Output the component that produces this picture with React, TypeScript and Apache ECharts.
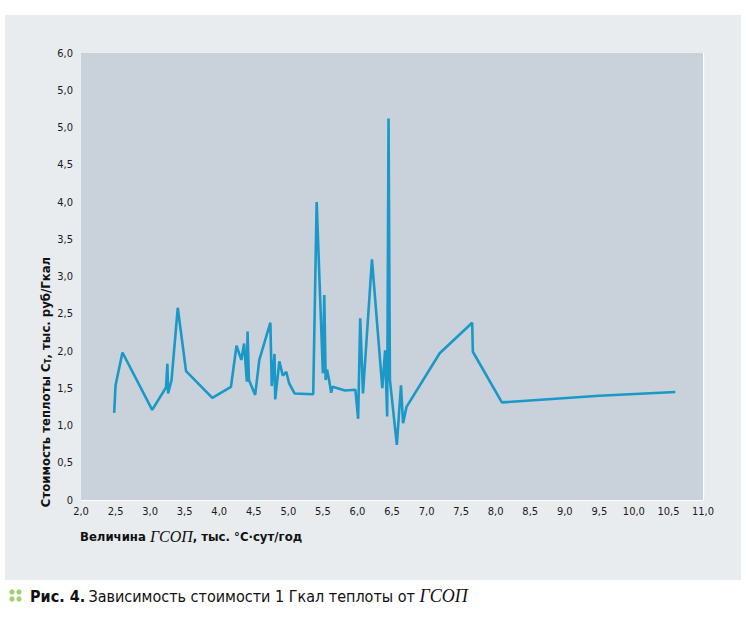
import React, { useEffect, useRef } from "react";
import * as echarts from "echarts";

const xValues = [
  2.48, 2.5, 2.6, 3.03, 3.23, 3.25, 3.26, 3.31, 3.4, 3.52,
  3.9, 4.17, 4.25, 4.32, 4.36, 4.4, 4.41, 4.43, 4.52, 4.58,
  4.74, 4.76, 4.8, 4.81, 4.87, 4.92, 4.97, 5.01, 5.09, 5.36,
  5.41, 5.5, 5.52, 5.54, 5.56, 5.59, 5.62, 5.64, 5.82, 5.97,
  6.01, 6.04, 6.08, 6.21, 6.36, 6.4, 6.43, 6.45, 6.47, 6.57,
  6.63, 6.66, 6.71, 7.19, 7.66, 7.67, 8.09, 9.5, 10.6,
];
const yValues = [
  1.17, 1.54, 1.98, 1.21, 1.51, 1.83, 1.43, 1.61, 2.58, 1.73,
  1.37, 1.52, 2.07, 1.88, 2.1, 1.59, 2.26, 1.61, 1.41, 1.88,
  2.38, 1.53, 1.96, 1.35, 1.86, 1.67, 1.72, 1.57, 1.43, 1.42,
  4.0, 1.7, 2.75, 1.61, 1.75, 1.61, 1.44, 1.52, 1.47, 1.48,
  1.09, 2.44, 1.43, 3.23, 1.5, 2.01, 1.12, 5.12, 1.61, 0.74,
  1.54, 1.03, 1.25, 1.97, 2.38, 1.99, 1.31, 1.4, 1.45,
];
// y tick labels as printed in the source (the 5.5 tick is printed "5,0")
const yTickLabels = ["0", "0,5", "1,0", "1,5", "2,0", "2,5", "3,0", "3,5", "4,0", "4,5", "5,0", "5,0", "6,0"];
const xTickLabels = [
  "2,0", "2,5", "3,0", "3,5", "4,0", "4,5", "5,0", "5,5", "6,0", "6,5",
  "7,0", "7,5", "8,0", "8,5", "9,0", "9,5", "10,0", "10,5", "11,0",
];

const COND = '"Liberation Sans Narrow", "DejaVu Sans Condensed", "Roboto", sans-serif';
const SERIF = '"Liberation Serif", "DejaVu Serif", serif';

export default function App() {
  const ref = useRef<HTMLDivElement>(null);
  useEffect(() => {
    document.body.style.margin = "0";
    if (!ref.current) return;
    const chart = echarts.init(ref.current, undefined, { renderer: "svg" });
    const data = xValues.map((x, i) => [x, yValues[i]]);
    chart.setOption({
      animation: false,
      backgroundColor: "#ffffff",
      grid: {
        left: 81,
        right: 43,
        top: 53,
        bottom: 125,
        show: true,
        backgroundColor: "#c9d2da",
        borderWidth: 0,
        z: 1,
      },
      xAxis: {
        type: "value",
        min: 2,
        max: 11,
        interval: 0.5,
        axisLine: { show: false },
        axisTick: { show: false },
        splitLine: { show: true, lineStyle: { color: "#ffffff", width: 1.2 } },
        axisLabel: {
          margin: 6,
          fontFamily: COND,
          fontSize: 11,
          color: "#1a1a1a",
          formatter: (v: number) => xTickLabels[Math.round((v - 2) / 0.5)] ?? "",
        },
      },
      yAxis: {
        type: "value",
        min: 0,
        max: 6,
        interval: 0.5,
        axisLine: { show: false },
        axisTick: { show: false },
        splitLine: { show: true, lineStyle: { color: "#ffffff", width: 1.2 } },
        axisLabel: {
          margin: 8,
          fontFamily: COND,
          fontSize: 11,
          color: "#1a1a1a",
          formatter: (v: number) => yTickLabels[Math.round(v / 0.5)] ?? "",
        },
      },
      series: [
        {
          type: "line",
          data,
          showSymbol: false,
          symbol: "none",
          lineStyle: { color: "#1a98c8", width: 2.6 },
          z: 5,
        },
      ],
      graphic: [
        {
          type: "rect",
          z: -100,
          shape: { x: 5, y: 15, width: 736, height: 565 },
          style: { fill: "#e9ecef" },
        },
        {
          type: "text",
          x: 45,
          y: 382,
          rotation: Math.PI / 2,
          style: {
            text: "{b|Стоимость теплоты }{b|C}{s|Т}{b|, тыс. руб/Гкал}",
            align: "center",
            verticalAlign: "middle",
            rich: {
              b: { fontFamily: COND, fontWeight: "bold", fontSize: 13, fill: "#111" },
              s: { fontFamily: COND, fontWeight: "bold", fontSize: 8, fill: "#111", verticalAlign: "bottom", padding: [6, 0, 0, 0] },
            },
          },
        },
        {
          type: "text",
          x: 80,
          y: 536,
          style: {
            text: "{b|Величина }{i|ГСОП}{b|, тыс. °С·сут/год}",
            align: "left",
            verticalAlign: "middle",
            rich: {
              b: { fontFamily: COND, fontWeight: "bold", fontSize: 13, fill: "#111" },
              i: { fontFamily: SERIF, fontStyle: "italic", fontSize: 16, fill: "#111" },
            },
          },
        },
        { type: "circle", shape: { cx: 12, cy: 592, r: 2.6 }, style: { fill: "#9fd06a" } },
        { type: "circle", shape: { cx: 19, cy: 592, r: 2.6 }, style: { fill: "#9fd06a" } },
        { type: "circle", shape: { cx: 12, cy: 599, r: 2.6 }, style: { fill: "#9fd06a" } },
        { type: "circle", shape: { cx: 19, cy: 599, r: 2.6 }, style: { fill: "#9fd06a" } },
        {
          type: "text",
          x: 30,
          y: 596,
          style: {
            text: "{b|Рис. 4.} {r|Зависимость стоимости 1 Гкал теплоты от }{i|ГСОП}",
            align: "left",
            verticalAlign: "middle",
            rich: {
              b: { fontFamily: COND, fontWeight: "bold", fontSize: 16, fill: "#111" },
              r: { fontFamily: COND, fontSize: 16, fill: "#111" },
              i: { fontFamily: SERIF, fontStyle: "italic", fontSize: 18, fill: "#111" },
            },
          },
        },
      ],
    });
    return () => chart.dispose();
  }, []);
  return <div ref={ref} style={{ width: 746, height: 625 }} />;
}
